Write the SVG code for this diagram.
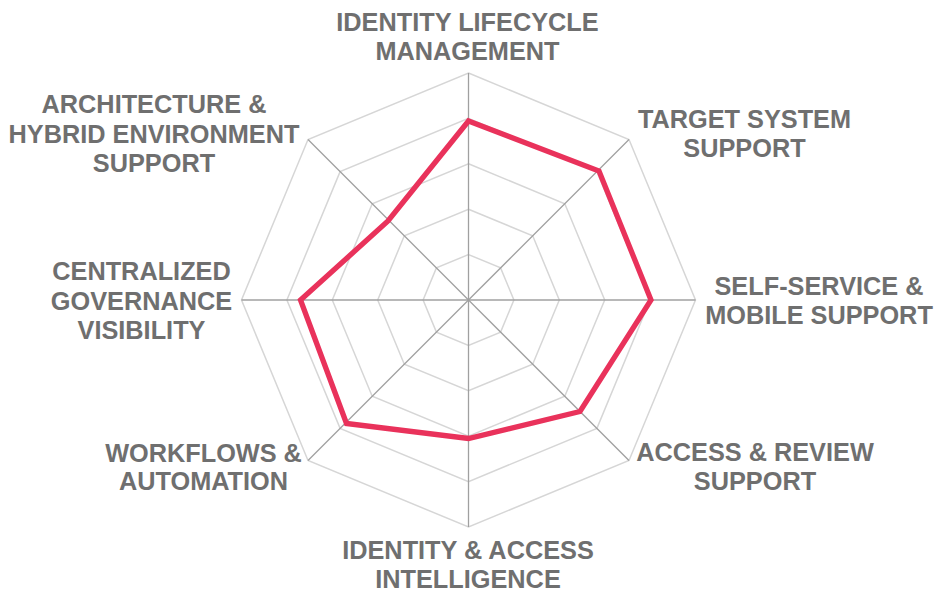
<svg xmlns="http://www.w3.org/2000/svg" width="939" height="596" viewBox="0 0 939 596">
<style>
.ring{fill:none;stroke:#d6d6d6;stroke-width:1.5}
.axis{stroke:#a0a0a0;stroke-width:1.3}
.data{fill:none;stroke:#e9325b;stroke-width:5.3;stroke-linejoin:miter}
.lbl{font-family:"Liberation Sans",Arial,sans-serif;font-weight:bold;font-size:25.3px;fill:#6f6f6f;text-anchor:middle}
</style>
<rect width="939" height="596" fill="#ffffff"/>
<g id="grid">
<polygon class="ring" points="468.5,73 629,139.5 695.5,300 629,460.5 468.5,527 308,460.5 241.5,300 308,139.5"/>
<polygon class="ring" points="468.5,118.4 596.9,171.6 650.1,300 596.9,428.4 468.5,481.6 340.1,428.4 286.9,300 340.1,171.6"/>
<polygon class="ring" points="468.5,163.8 564.8,203.7 604.7,300 564.8,396.3 468.5,436.2 372.2,396.3 332.3,300 372.2,203.7"/>
<polygon class="ring" points="468.5,209.2 532.7,235.8 559.3,300 532.7,364.2 468.5,390.8 404.3,364.2 377.7,300 404.3,235.8"/>
<polygon class="ring" points="468.5,254.6 500.6,267.9 513.9,300 500.6,332.1 468.5,345.4 436.4,332.1 423.1,300 436.4,267.9"/>
</g>
<g id="connectors">
<line class="axis" x1="468.5" y1="300" x2="468.5" y2="73"/>
<line class="axis" x1="468.5" y1="300" x2="629" y2="139.5"/>
<line class="axis" x1="468.5" y1="300" x2="695.5" y2="300"/>
<line class="axis" x1="468.5" y1="300" x2="629" y2="460.5"/>
<line class="axis" x1="468.5" y1="300" x2="468.5" y2="527"/>
<line class="axis" x1="468.5" y1="300" x2="308" y2="460.5"/>
<line class="axis" x1="468.5" y1="300" x2="241.5" y2="300"/>
<line class="axis" x1="468.5" y1="300" x2="308" y2="139.5"/>
</g>
<g id="series">
<polygon class="data" points="468.5,121 599,171 651,300 580,411.5 468.5,438.5 346.5,423.5 300.5,300 388,221"/>
</g>
<g id="label-identity-lifecycle">
<text class="lbl" x="467.5" y="31">IDENTITY LIFECYCLE</text>
<text class="lbl" x="467.5" y="59.5">MANAGEMENT</text>
</g>
<g id="label-target-system">
<text class="lbl" x="744.5" y="128">TARGET SYSTEM</text>
<text class="lbl" x="744.5" y="157">SUPPORT</text>
</g>
<g id="label-self-service">
<text class="lbl" x="819" y="295">SELF-SERVICE &amp;</text>
<text class="lbl" x="819" y="323.5">MOBILE SUPPORT</text>
</g>
<g id="label-access-review">
<text class="lbl" x="755" y="461">ACCESS &amp; REVIEW</text>
<text class="lbl" x="755" y="490">SUPPORT</text>
</g>
<g id="label-identity-access">
<text class="lbl" x="468" y="559">IDENTITY &amp; ACCESS</text>
<text class="lbl" x="468" y="588">INTELLIGENCE</text>
</g>
<g id="label-workflows">
<text class="lbl" x="203.5" y="461.5">WORKFLOWS &amp;</text>
<text class="lbl" x="203.5" y="490">AUTOMATION</text>
</g>
<g id="label-centralized">
<text class="lbl" x="141.5" y="280">CENTRALIZED</text>
<text class="lbl" x="141.5" y="309.5">GOVERNANCE</text>
<text class="lbl" x="141.5" y="338.5">VISIBILITY</text>
</g>
<g id="label-architecture">
<text class="lbl" x="154" y="113">ARCHITECTURE &amp;</text>
<text class="lbl" x="154" y="142.5">HYBRID ENVIRONMENT</text>
<text class="lbl" x="154" y="172">SUPPORT</text>
</g>
</svg>
